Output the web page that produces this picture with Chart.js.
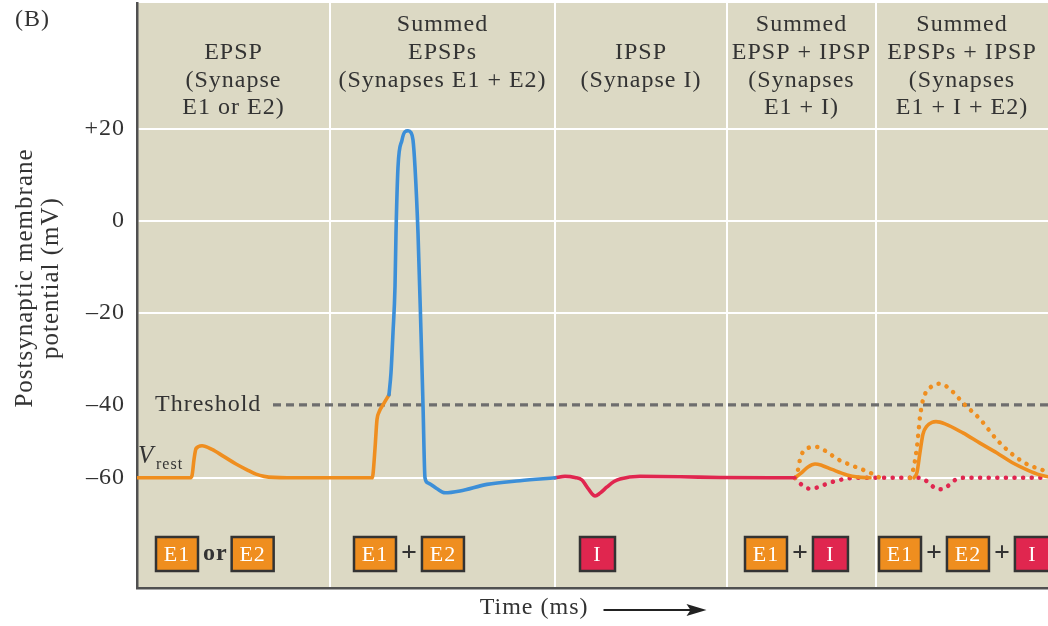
<!DOCTYPE html>
<html>
<head>
<meta charset="utf-8">
<title>Summation of EPSPs and IPSPs</title>
<script src="https://cdn.jsdelivr.net/npm/chart.js@4.4.1/dist/chart.umd.min.js"></script>
<style>
  html, body { margin: 0; padding: 0; background: #fff; }
  #wrap { width: 1048px; height: 626px; }
</style>
</head>
<body>
<div id="wrap"><canvas id="chart" width="1048" height="626"></canvas></div>
<script>
// --- Data: time in arbitrary units, membrane potential in mV ---
const yTicks = [20, 0, -20, -40, -60];
const yTickLabels = ['+20', '0', '–20', '–40', '–60'];
const columnEdges = [19.3, 41.8, 59.0, 73.9];
const columnTitles = [
  ['', 'EPSP', '(Synapse', 'E1 or E2)'],
  ['Summed', 'EPSPs', '(Synapses E1 + E2)'],
  ['', 'IPSP', '(Synapse I)'],
  ['Summed', 'EPSP + IPSP', '(Synapses', 'E1 + I)'],
  ['Summed', 'EPSPs + IPSP', '(Synapses', 'E1 + I + E2)']
];
const stimulusLabels = [['E1', 'or', 'E2'], ['E1', '+', 'E2'], ['I'], ['E1', '+', 'I'], ['E1', '+', 'E2', '+', 'I']];
const yTitleLines = ['Postsynaptic membrane', 'potential (mV)'];
const xTitle = 'Time (ms)';
const thresholdMv = -40;
const restMv = -60;
const thresholdSpan = [13.6, 91.1];

// single EPSP, then E1 + E2 rising to threshold (orange)
const epspTime = [0, 5.3, 5.5, 5.7, 5.9, 6.5, 7.5, 8.7, 9.9, 11.0, 11.9, 12.7, 15.0, 23.5, 23.6, 23.8, 24.0, 24.2, 24.6, 25.2];
const epspMv   = [-60, -60, -59.4, -55, -52, -51.2, -52.2, -54.2, -56.2, -57.8, -59.0, -59.6, -60, -60, -59, -52, -44, -42, -40, -37.8];
// action potential (blue)
const spikeTime = [25.2, 25.4, 25.6, 25.8, 25.9, 26.1, 26.5, 26.8, 27.1, 27.4, 27.6, 27.8, 28.1, 28.4, 28.6, 28.8, 29.1, 30.0, 30.8, 32.3, 35.0, 38.3, 41.8];
const spikeMv   = [-37.8, -33, -24.3, -14.3, -2.6, 11.7, 17.6, 19.4, 19.6, 19.2, 17.6, 11.7, -2.6, -24.3, -40, -60, -61.4, -63.0, -64.1, -63.6, -61.8, -60.8, -60];
// IPSP from synapse I (red)
const ipspTime = [41.8, 42.8, 43.8, 44.5, 45.0, 45.5, 45.8, 46.3, 47.0, 47.7, 48.3, 50.3, 54.3, 58.3, 65.8];
const ipspMv   = [-60, -59.6, -59.9, -60.6, -62.5, -64.4, -65.0, -64.2, -62.5, -61.0, -60.3, -59.6, -59.7, -59.9, -60];
// E1 + I summed (solid orange)
const sumE1ITime = [65.8, 66.5, 67.1, 67.8, 68.5, 69.5, 71.0, 72.1, 73.3];
const sumE1IMv   = [-60, -58.5, -57.0, -56.2, -56.6, -57.7, -59.2, -59.8, -60];
// E1 alone, for comparison (dotted orange)
const e1OnlyTime = [65.8, 66.1, 66.3, 66.6, 67.9, 69.0, 70.0, 71.3, 72.6, 73.3, 74.3];
const e1OnlyMv   = [-60, -57.8, -55, -52.9, -51.5, -52.9, -54.8, -56.4, -57.8, -58.6, -60];
// I alone, for comparison (dotted red)
const iOnlyTime = [65.8, 66.3, 66.8, 67.3, 68.1, 69.0, 70.1, 71.3, 72.3, 78.3, 78.9, 79.5, 80.0, 80.6, 81.2, 81.7, 82.1, 82.8, 91.1];
const iOnlyMv   = [-60, -61.5, -62.6, -63.0, -62.6, -61.6, -60.7, -60.1, -60, -60, -60.8, -62.2, -63.1, -63.1, -62.0, -60.8, -60.2, -60, -60];
// E1 + I + E2 summed (solid orange)
const sumAllTime = [77.7, 78.0, 78.3, 78.6, 79.0, 79.5, 79.9, 80.8, 82.6, 84.3, 86.0, 87.5, 89.0, 90.3, 91.1];
const sumAllMv   = [-60, -58.5, -53, -48, -45.8, -44.8, -44.6, -45.2, -47.7, -50.5, -53.2, -55.8, -57.8, -59.2, -59.7];
// E1 + E2 without I (dotted orange)
const e1e2Time = [77.3, 77.6, 78.0, 78.3, 78.6, 79.3, 80.3, 81.6, 82.6, 84.3, 86.0, 87.6, 89.1, 90.5, 91.1];
const e1e2Mv   = [-60, -58, -51.5, -43.3, -38.9, -36.3, -35.4, -37.2, -39.6, -43.9, -49.6, -53.7, -56.4, -57.8, -58.5];

// --- Styles ---
const ink = '#333333';
const orange = '#ef8e1f';
const blue = '#3c8fd8';
const red = '#e0264f';
const panelBg = '#dcd9c4';
const serif = (size, style) => `${style || ''} ${size}px 'Liberation Serif', 'Times New Roman', serif`;

// y axis is compressed below threshold, as in the figure
const squeeze = 3.65 / 4.6;
const warp = v => v >= -40 ? v : -40 + (v + 40) * squeeze;
const unwarp = w => w >= -40 ? w : -40 + (w + 40) / squeeze;

class WarpScale extends Chart.LinearScale {
  configure() {
    super.configure();
    this._startValue = warp(this.min);
    this._endValue = warp(this.max);
    this._valueRange = this._endValue - this._startValue;
  }
  getPixelForValue(v) {
    return v === null ? NaN : this.getPixelForDecimal((warp(v) - this._startValue) / this._valueRange);
  }
  getValueForPixel(p) {
    return unwarp(this._startValue + this.getDecimalForPixel(p) * this._valueRange);
  }
}
WarpScale.id = 'warp';
Chart.register(WarpScale);

const pts = (t, v) => t.map((x, i) => ({ x, y: v[i] }));
const trace = (label, t, v, color, dotted) => ({
  label, data: pts(t, v), borderColor: color,
  borderWidth: dotted ? 4.5 : 3.6,
  borderDash: dotted ? [0.1, 8.5] : [],
  borderCapStyle: 'round', borderJoinStyle: 'round',
  cubicInterpolationMode: 'monotone', pointRadius: 0
});

const noPad = s => { s.paddingTop = 0; s.paddingBottom = 0; s.paddingLeft = 0; s.paddingRight = 0; };

const stimStart = [1.9, 21.7, 44.3, 60.8, 74.2];
const boxWidth = { E1: 42, E2: 42, I: 35 };

const annotate = {
  id: 'annotate',
  beforeDraw(chart) {
    const { ctx, chartArea: a } = chart;
    ctx.save();
    ctx.fillStyle = panelBg;
    ctx.fillRect(a.left, a.top, a.right - a.left, a.bottom - a.top);
    ctx.restore();
    ctx.letterSpacing = '1px';
  },
  afterDraw(chart) {
    const { ctx, chartArea: a, scales: { x, y } } = chart;
    ctx.save();
    ctx.letterSpacing = '1px';
    ctx.fillStyle = ink;
    ctx.textBaseline = 'middle';

    ctx.font = serif(24);
    ctx.textAlign = 'left';
    ctx.fillText('(B)', 15, 20);

    // column headings
    ctx.textAlign = 'center';
    const edges = [x.min, ...columnEdges, x.max];
    columnTitles.forEach((lines, i) => {
      const cx = x.getPixelForValue((edges[i] + edges[i + 1]) / 2);
      lines.forEach((t, j) => { if (t) ctx.fillText(t, cx, a.top + 22 + j * 27.7); });
    });

    // threshold and resting labels
    ctx.textAlign = 'left';
    ctx.fillText('Threshold', a.left + 18, y.getPixelForValue(thresholdMv));
    const yr = y.getPixelForValue(restMv);
    ctx.font = serif(25, 'italic');
    ctx.fillText('V', a.left + 1, yr - 21);
    ctx.font = serif(16);
    ctx.fillText('rest', a.left + 19, yr - 13);

    // stimulus boxes
    const by = a.bottom - 34;
    stimulusLabels.forEach((row, i) => {
      let px = x.getPixelForValue(stimStart[i]);
      row.forEach(t => {
        const w = boxWidth[t];
        if (w) {
          ctx.fillStyle = t === 'I' ? red : orange;
          ctx.fillRect(px, by - 17, w, 34);
          ctx.strokeStyle = '#333';
          ctx.lineWidth = 2.5;
          ctx.strokeRect(px, by - 17, w, 34);
          ctx.fillStyle = '#fff';
          ctx.font = serif(22);
          ctx.textAlign = 'center';
          ctx.fillText(t, px + w / 2, by + 1);
          px += w + 4;
        } else {
          ctx.fillStyle = ink;
          ctx.font = serif(t === '+' ? 28 : 24, 'bold');
          ctx.textAlign = 'left';
          ctx.fillText(t, px + 1, by);
          px += ctx.measureText(t).width + 5;
        }
      });
    });

    // x title with arrow
    const mid = (a.left + a.right) / 2;
    ctx.fillStyle = ink;
    ctx.font = serif(24);
    ctx.textAlign = 'right';
    ctx.fillText(xTitle, mid - 4, 608);
    ctx.strokeStyle = '#222';
    ctx.lineWidth = 2;
    ctx.beginPath();
    ctx.moveTo(mid + 11, 610);
    ctx.lineTo(mid + 100, 610);
    ctx.stroke();
    ctx.fillStyle = '#222';
    ctx.beginPath();
    ctx.moveTo(mid + 114, 610);
    ctx.lineTo(mid + 94, 604);
    ctx.lineTo(mid + 98, 610);
    ctx.lineTo(mid + 94, 616);
    ctx.closePath();
    ctx.fill();

    // y title
    ctx.fillStyle = ink;
    ctx.font = serif(25);
    ctx.textAlign = 'center';
    ctx.translate(25, 278);
    ctx.rotate(-Math.PI / 2);
    ctx.fillText(yTitleLines[0], 0, 0);
    ctx.fillText(yTitleLines[1], 0, 26);
    ctx.restore();
  }
};

new Chart(document.getElementById('chart'), {
  type: 'line',
  data: {
    datasets: [
      trace('Action potential', spikeTime, spikeMv, blue),
      trace('EPSP', epspTime, epspMv, orange),
      trace('IPSP', ipspTime, ipspMv, red),
      trace('E1 + I', sumE1ITime, sumE1IMv, orange),
      trace('E1 + I + E2', sumAllTime, sumAllMv, orange),
      trace('E1 alone', e1OnlyTime, e1OnlyMv, orange, true),
      trace('E1 + E2 alone', e1e2Time, e1e2Mv, orange, true),
      trace('I alone', iOnlyTime, iOnlyMv, red, true),
      {
        label: 'Threshold',
        data: thresholdSpan.map(x => ({ x, y: thresholdMv })),
        borderColor: '#6e6e6e', borderWidth: 3.2, borderDash: [8, 5], pointRadius: 0
      }
    ]
  },
  options: {
    responsive: false,
    devicePixelRatio: 1,
    animation: false,
    layout: { padding: { top: 3, right: 0, bottom: 0, left: 0 } },
    plugins: { legend: { display: false }, tooltip: { enabled: false } },
    scales: {
      x: {
        type: 'linear', min: 0, max: 91.1,
        afterFit: s => { s.height = 38; noPad(s); },
        afterBuildTicks: s => { s.ticks = columnEdges.map(value => ({ value })); },
        ticks: { display: false },
        grid: { color: '#ffffff', lineWidth: 2, drawTicks: false },
        border: { color: '#505050', width: 2.5 }
      },
      y: {
        type: 'warp', min: -90.2, max: 47.4,
        afterFit: s => { s.width = 137; noPad(s); },
        afterBuildTicks: s => { s.ticks = yTicks.map(value => ({ value })); },
        ticks: {
          padding: 12, color: ink, font: { family: "'Liberation Serif', serif", size: 24 },
          callback: v => yTickLabels[yTicks.indexOf(v)]
        },
        grid: {
          color: c => c.tick && c.tick.value === thresholdMv ? 'rgba(0,0,0,0)' : '#ffffff',
          lineWidth: 2, drawTicks: false
        },
        border: { color: '#505050', width: 2.5 }
      }
    }
  },
  plugins: [annotate]
});
</script>
</body>
</html>
